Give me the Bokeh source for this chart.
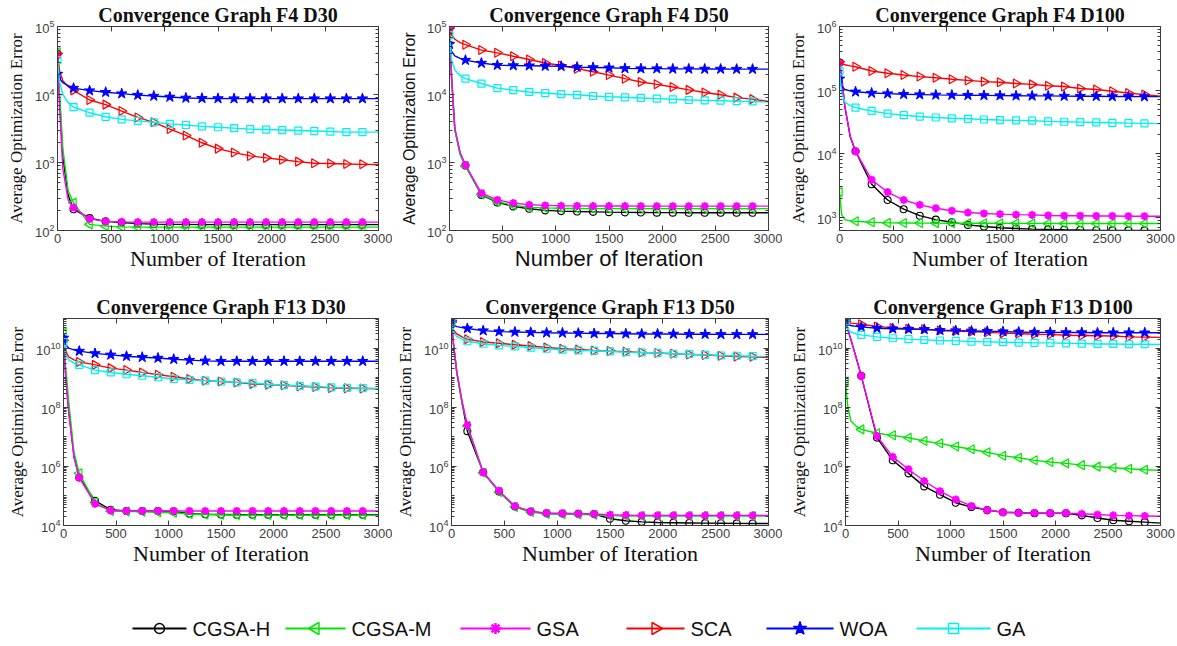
import math
from bokeh.plotting import figure
from bokeh.models import (Range1d, FixedTicker, LogAxis, LinearAxis, ColumnDataSource)
from bokeh.layouts import column, row
from bokeh.embed import file_html
from bokeh.resources import INLINE
from bokeh.core.properties import value

# ---------------- data ----------------
ITER = [0, 20, 50, 100, 150, 300, 450, 600, 750, 900, 1050, 1200, 1350, 1500,
        1650, 1800, 1950, 2100, 2250, 2400, 2550, 2700, 2850, 3000]
MARK_STEP = 150
X_TICKS = [0, 500, 1000, 1500, 2000, 2500, 3000]
ALGOS = ["CGSA-H", "CGSA-M", "GSA", "SCA", "WOA", "GA"]

# F4, D30
F4_D30_CGSA_H = [4.0e4, 8.0e3, 1.2e3, 330, 205, 152, 136, 131, 126, 124, 123, 123, 122, 122, 122, 122, 122, 122, 122, 122, 122, 122, 122, 122]
F4_D30_CGSA_M = [4.2e4, 1.0e4, 1.6e3, 380, 257, 123, 116, 113, 112, 112, 112, 112, 112, 112, 112, 112, 112, 112, 112, 112, 112, 112, 112, 112]
F4_D30_GSA = [3.8e4, 6.0e3, 800, 280, 217, 148, 136, 134, 133, 133, 133, 133, 133, 133, 133, 133, 133, 133, 133, 133, 133, 133, 133, 133]
F4_D30_SCA = [4.0e4, 2.2e4, 1.6e4, 1.3e4, 1.15e4, 8.3e3, 7.1e3, 5.7e3, 4.6e3, 3.9e3, 3.1e3, 2.5e3, 1.95e3, 1.6e3, 1.4e3, 1.25e3, 1.17e3, 1.1e3, 1.03e3, 975, 965, 950, 940, 935]
F4_D30_WOA = [2.0e4, 1.7e4, 1.5e4, 1.35e4, 1.24e4, 1.14e4, 1.08e4, 1.03e4, 9.8e3, 9.5e3, 9.2e3, 8.9e3, 8.8e3, 8.75e3, 8.7e3, 8.7e3, 8.7e3, 8.7e3, 8.7e3, 8.7e3, 8.7e3, 8.7e3, 8.7e3, 8.7e3]
F4_D30_GA = [3.2e4, 1.5e4, 1.0e4, 7.6e3, 6.5e3, 5.4e3, 4.7e3, 4.3e3, 4.1e3, 3.9e3, 3.7e3, 3.56e3, 3.4e3, 3.3e3, 3.2e3, 3.1e3, 3.05e3, 3.0e3, 2.95e3, 2.9e3, 2.85e3, 2.8e3, 2.8e3, 2.8e3]

# F4, D50
F4_D50_CGSA_H = [9.5e4, 1.7e4, 3.1e3, 1.35e3, 900, 334, 259, 226, 209, 198, 193, 190, 188, 186, 185, 184, 183, 183, 182, 182, 182, 182, 182, 182]
F4_D50_CGSA_M = [9.5e4, 1.7e4, 3.0e3, 1.3e3, 890, 340, 266, 236, 219, 215, 212, 211, 210, 210, 210, 210, 210, 210, 210, 210, 210, 210, 210, 210]
F4_D50_GSA = [9.5e4, 1.8e4, 3.2e3, 1.4e3, 920, 354, 282, 253, 239, 234, 231, 230, 229, 229, 229, 228, 228, 228, 228, 228, 228, 228, 228, 228]
F4_D50_SCA = [9.5e4, 7.5e4, 6.5e4, 5.8e4, 5.4e4, 4.5e4, 4.1e4, 3.65e4, 3.27e4, 2.9e4, 2.67e4, 2.4e4, 2.16e4, 1.93e4, 1.71e4, 1.53e4, 1.41e4, 1.29e4, 1.17e4, 1.07e4, 9.9e3, 9.0e3, 8.55e3, 7.9e3]
F4_D50_WOA = [5.5e4, 4.3e4, 3.7e4, 3.4e4, 3.2e4, 2.9e4, 2.7e4, 2.67e4, 2.65e4, 2.62e4, 2.6e4, 2.53e4, 2.5e4, 2.47e4, 2.42e4, 2.4e4, 2.4e4, 2.38e4, 2.38e4, 2.37e4, 2.37e4, 2.36e4, 2.36e4, 2.36e4]
F4_D50_GA = [7.5e4, 3.2e4, 2.3e4, 1.9e4, 1.71e4, 1.45e4, 1.24e4, 1.16e4, 1.09e4, 1.05e4, 1.01e4, 9.9e3, 9.5e3, 9.25e3, 9.1e3, 8.9e3, 8.7e3, 8.5e3, 8.3e3, 8.2e3, 8.1e3, 8.0e3, 7.9e3, 7.8e3]

# F4, D100
F4_D100_CGSA_H = [2.7e5, 1.6e5, 5.5e4, 1.85e4, 1.09e4, 3.3e3, 1.87e3, 1.34e3, 1.06e3, 918, 836, 760, 716, 684, 668, 652, 645, 637, 630, 625, 623, 622, 622, 622]
F4_D100_CGSA_M = [2.5e3, 1.1e3, 920, 880, 865, 836, 817, 815, 812, 810, 808, 806, 805, 804, 803, 802, 801, 800, 800, 800, 800, 800, 800, 800]
F4_D100_GSA = [2.7e5, 1.6e5, 5.6e4, 1.9e4, 1.09e4, 3.9e3, 2.49e3, 1.87e3, 1.57e3, 1.39e3, 1.27e3, 1.19e3, 1.15e3, 1.12e3, 1.1e3, 1.09e3, 1.07e3, 1.06e3, 1.06e3, 1.05e3, 1.05e3, 1.04e3, 1.04e3, 1.04e3]
F4_D100_SCA = [2.8e5, 2.6e5, 2.5e5, 2.4e5, 2.33e5, 2.0e5, 1.84e5, 1.73e5, 1.63e5, 1.56e5, 1.48e5, 1.42e5, 1.36e5, 1.33e5, 1.27e5, 1.23e5, 1.17e5, 1.14e5, 1.06e5, 1.02e5, 9.6e4, 9.0e4, 8.5e4, 8.0e4]
F4_D100_WOA = [1.5e5, 1.15e5, 1.02e5, 9.7e4, 9.4e4, 9.0e4, 8.8e4, 8.6e4, 8.5e4, 8.4e4, 8.35e4, 8.3e4, 8.25e4, 8.2e4, 8.15e4, 8.1e4, 8.1e4, 8.05e4, 8.0e4, 8.0e4, 7.95e4, 7.95e4, 7.9e4, 7.9e4]
F4_D100_GA = [2.0e5, 9.0e4, 6.5e4, 5.7e4, 5.3e4, 4.7e4, 4.27e4, 4.03e4, 3.84e4, 3.71e4, 3.6e4, 3.54e4, 3.45e4, 3.38e4, 3.34e4, 3.3e4, 3.22e4, 3.18e4, 3.14e4, 3.1e4, 3.06e4, 3.03e4, 3.0e4, 2.97e4]

# F13, D30
F13_D30_CGSA_H = [2.0e10, 1.3e9, 8.0e7, 2.2e6, 4.2e5, 6.9e4, 3.4e4, 3.1e4, 3.1e4, 3.1e4, 3.0e4, 2.5e4, 2.4e4, 2.35e4, 2.3e4, 2.3e4, 2.3e4, 2.3e4, 2.3e4, 2.3e4, 2.3e4, 2.3e4, 2.3e4, 2.3e4]
F13_D30_CGSA_M = [3.3e10, 2.5e9, 1.5e8, 3.0e6, 5.8e5, 6.1e4, 3.1e4, 3.0e4, 2.9e4, 2.8e4, 2.7e4, 2.45e4, 2.35e4, 2.3e4, 2.25e4, 2.25e4, 2.25e4, 2.25e4, 2.25e4, 2.25e4, 2.25e4, 2.25e4, 2.25e4, 2.25e4]
F13_D30_GSA = [2.0e10, 1.1e9, 6.0e7, 2.0e6, 4.2e5, 5.4e4, 3.2e4, 3.1e4, 3.1e4, 3.1e4, 3.1e4, 3.1e4, 3.1e4, 3.1e4, 3.1e4, 3.1e4, 3.1e4, 3.1e4, 3.1e4, 3.1e4, 3.1e4, 3.1e4, 3.1e4, 3.1e4]
F13_D30_SCA = [1.8e10, 8.0e9, 5.0e9, 4.0e9, 3.4e9, 2.7e9, 2.1e9, 1.8e9, 1.5e9, 1.26e9, 1.07e9, 9.0e8, 7.9e8, 7.4e8, 6.9e8, 6.1e8, 5.8e8, 5.5e8, 5.1e8, 4.8e8, 4.5e8, 4.4e8, 4.3e8, 4.2e8]
F13_D30_WOA = [2.2e10, 1.3e10, 1.0e10, 8.7e9, 7.9e9, 6.6e9, 5.9e9, 5.3e9, 4.9e9, 4.6e9, 4.2e9, 3.9e9, 3.7e9, 3.6e9, 3.6e9, 3.6e9, 3.6e9, 3.6e9, 3.6e9, 3.6e9, 3.6e9, 3.6e9, 3.6e9, 3.6e9]
F13_D30_GA = [1.6e10, 6.0e9, 4.0e9, 3.1e9, 2.7e9, 1.8e9, 1.5e9, 1.3e9, 1.16e9, 1.03e9, 9.0e8, 8.4e8, 7.9e8, 7.4e8, 6.9e8, 6.5e8, 6.0e8, 5.6e8, 5.3e8, 5.0e8, 4.7e8, 4.5e8, 4.4e8, 4.3e8]

# F13, D50
F13_D50_CGSA_H = [7.7e10, 1.25e10, 1.5e9, 1.4e8, 1.55e7, 6.3e5, 1.4e5, 4.4e4, 2.95e4, 2.6e4, 2.55e4, 2.5e4, 2.45e4, 1.7e4, 1.45e4, 1.33e4, 1.26e4, 1.24e4, 1.22e4, 1.2e4, 1.19e4, 1.18e4, 1.17e4, 1.17e4]
F13_D50_CGSA_M = [7.7e10, 1.2e10, 1.5e9, 1.5e8, 2.3e7, 6.1e5, 1.35e5, 4.2e4, 2.85e4, 2.45e4, 2.4e4, 2.35e4, 2.3e4, 2.15e4, 2.1e4, 2.1e4, 2.1e4, 2.1e4, 2.1e4, 2.1e4, 2.1e4, 2.1e4, 2.1e4, 2.1e4]
F13_D50_GSA = [7.7e10, 1.25e10, 1.6e9, 1.6e8, 2.5e7, 6.3e5, 1.5e5, 4.5e4, 3.0e4, 2.6e4, 2.55e4, 2.5e4, 2.45e4, 2.3e4, 2.25e4, 2.2e4, 2.2e4, 2.2e4, 2.2e4, 2.2e4, 2.2e4, 2.2e4, 2.2e4, 2.2e4]
F13_D50_SCA = [7.7e10, 4.0e10, 3.0e10, 2.4e10, 2.0e10, 1.6e10, 1.45e10, 1.3e10, 1.17e10, 1.05e10, 9.5e9, 9.0e9, 8.3e9, 7.9e9, 7.5e9, 7.1e9, 6.8e9, 6.4e9, 6.1e9, 5.8e9, 5.5e9, 5.2e9, 5.1e9, 4.8e9]
F13_D50_WOA = [7.7e10, 6.0e10, 5.3e10, 4.9e10, 4.6e10, 3.9e10, 3.6e10, 3.5e10, 3.4e10, 3.3e10, 3.25e10, 3.2e10, 3.1e10, 3.1e10, 3.05e10, 3.0e10, 3.0e10, 3.0e10, 2.95e10, 2.95e10, 2.9e10, 2.9e10, 2.9e10, 2.9e10]
F13_D50_GA = [7.7e10, 3.5e10, 2.5e10, 2.0e10, 1.7e10, 1.4e10, 1.23e10, 1.14e10, 1.03e10, 9.5e9, 8.8e9, 8.3e9, 8.1e9, 7.7e9, 7.3e9, 7.1e9, 6.8e9, 6.4e9, 6.2e9, 5.9e9, 5.6e9, 5.5e9, 5.3e9, 5.2e9]

# F13, D100
F13_D100_CGSA_H = [8.0e10, 4.5e10, 2.0e10, 5.0e9, 1.15e9, 9.4e6, 1.6e6, 5.8e5, 2.1e5, 1.1e5, 5.9e4, 4.2e4, 3.3e4, 2.8e4, 2.7e4, 2.6e4, 2.6e4, 2.6e4, 2.2e4, 1.8e4, 1.5e4, 1.4e4, 1.3e4, 1.2e4]
F13_D100_CGSA_M = [7.4e8, 1.2e8, 3.5e7, 2.3e7, 1.78e7, 1.32e7, 1.12e7, 9.3e6, 7.2e6, 6.0e6, 4.7e6, 3.8e6, 3.0e6, 2.3e6, 1.95e6, 1.6e6, 1.4e6, 1.26e6, 1.1e6, 9.8e5, 9.0e5, 8.3e5, 7.7e5, 7.3e5]
F13_D100_GSA = [8.0e10, 4.5e10, 2.0e10, 5.0e9, 1.15e9, 1.07e7, 2.1e6, 8.0e5, 3.2e5, 1.45e5, 7.6e4, 4.6e4, 3.3e4, 2.8e4, 2.7e4, 2.65e4, 2.6e4, 2.6e4, 2.5e4, 2.35e4, 2.2e4, 2.15e4, 2.1e4, 2.05e4]
F13_D100_SCA = [8.0e10, 7.5e10, 7.0e10, 6.7e10, 6.4e10, 5.4e10, 4.8e10, 4.5e10, 4.3e10, 3.9e10, 3.8e10, 3.6e10, 3.4e10, 3.2e10, 3.1e10, 2.95e10, 2.9e10, 2.7e10, 2.65e10, 2.6e10, 2.55e10, 2.4e10, 2.35e10, 2.3e10]
F13_D100_WOA = [8.0e10, 6.5e10, 5.8e10, 5.4e10, 5.2e10, 4.7e10, 4.5e10, 4.4e10, 4.3e10, 4.0e10, 3.9e10, 3.8e10, 3.7e10, 3.6e10, 3.5e10, 3.4e10, 3.4e10, 3.35e10, 3.35e10, 3.3e10, 3.3e10, 3.3e10, 3.3e10, 3.3e10]
F13_D100_GA = [8.0e10, 4.5e10, 3.5e10, 3.0e10, 2.8e10, 2.4e10, 2.15e10, 2.0e10, 1.9e10, 1.8e10, 1.75e10, 1.66e10, 1.62e10, 1.58e10, 1.54e10, 1.5e10, 1.5e10, 1.45e10, 1.42e10, 1.38e10, 1.38e10, 1.35e10, 1.35e10, 1.32e10]

# ---------------- styles ----------------
AX_COLOR = "#3a3a3a"
TICK_LABEL_COLOR = "#404040"
STYLE = {
    "CGSA-H": dict(color="#000000", marker="circle", size=7, fill=None, angle=0.0, lw=1.1),
    "CGSA-M": dict(color="#00e600", marker="triangle", size=9, fill=None, angle=math.pi / 2, lw=1.2),
    "GSA": dict(color="#ff00ff", marker="asterisk", size=8, fill=None, angle=0.0, lw=2.2),
    "SCA": dict(color="#ff0000", marker="triangle", size=9, fill=None, angle=-math.pi / 2, lw=1.2),
    "WOA": dict(color="#0000ff", marker="star", size=11, fill="#0000ff", angle=0.0, lw=1.0),
    "GA": dict(color="#00f0f0", marker="square", size=7, fill=None, angle=0.0, lw=1.2),
}
MARK_IDX = [i for i, t in enumerate(ITER) if t % MARK_STEP == 0 and t < ITER[-1]]


def decade_ticks(lo_exp, hi_exp, step):
    majors = [10.0 ** e for e in range(lo_exp, hi_exp + 1, step)]
    minors = [m * 10.0 ** e for e in range(lo_exp - 1, hi_exp + 1) for m in range(2, 10)]
    if step > 1:
        minors += [10.0 ** e for e in range(lo_exp, hi_exp + 1) if (e - lo_exp) % step]
    return majors, minors


def style_axis(ax, labels=True):
    ax.axis_line_color = AX_COLOR
    ax.major_tick_in = 5
    ax.major_tick_out = 0
    ax.minor_tick_in = 3
    ax.minor_tick_out = 0
    ax.major_tick_line_color = AX_COLOR
    ax.minor_tick_line_color = AX_COLOR
    ax.major_label_text_font = "Liberation Sans"
    ax.major_label_text_color = TICK_LABEL_COLOR
    if labels:
        ax.major_label_text_font_size = "13px"
        ax.major_label_standoff = 3
    else:
        ax.major_label_text_font_size = "1px"
        ax.major_label_text_alpha = 0.0
        ax.major_label_standoff = 0


def make_panel(title, series, y_lo, y_hi, lo_exp, hi_exp, step, geom, sans):
    w, h, l, r, t, b = geom
    p = figure(width=w, height=h, x_range=Range1d(0, 3000), y_range=Range1d(y_lo, y_hi),
               y_axis_type="log", output_backend="svg", toolbar_location=None,
               min_border_left=l, min_border_right=r, min_border_top=t, min_border_bottom=b)
    p.grid.visible = False
    p.outline_line_color = AX_COLOR
    majors, minors = decade_ticks(lo_exp, hi_exp, step)
    yt = FixedTicker(ticks=majors, minor_ticks=minors)
    xt = FixedTicker(ticks=X_TICKS)
    xa = p.below[0]
    ya = p.left[0]
    xa.ticker = xt
    ya.ticker = yt
    style_axis(xa)
    style_axis(ya)
    lab_font = "Liberation Sans" if sans else "Liberation Serif"
    xa.axis_label = "Number of Iteration"
    xa.axis_label_text_font = lab_font
    xa.axis_label_text_font_style = "normal"
    xa.axis_label_text_font_size = "22px"
    xa.axis_label_text_color = "#111111"
    xa.axis_label_standoff = 0
    ya.axis_label = "Average Optimization Error"
    ya.axis_label_text_font = lab_font
    ya.axis_label_text_font_style = "normal"
    ya.axis_label_text_font_size = "16px" if sans else "17px"
    ya.axis_label_text_color = "#111111"
    ya.axis_label_standoff = 6
    # mirrored ticks on top and right (MATLAB box)
    ra = LogAxis(ticker=yt)
    style_axis(ra, labels=False)
    p.add_layout(ra, "right")
    ta = LinearAxis(ticker=xt)
    style_axis(ta, labels=False)
    p.add_layout(ta, "above")

    for name in ALGOS:
        vals = series[name]
        st = STYLE[name]
        src = ColumnDataSource(dict(x=ITER, y=vals))
        msrc = ColumnDataSource(dict(x=[ITER[i] for i in MARK_IDX], y=[vals[i] for i in MARK_IDX]))
        p.line("x", "y", source=src, line_color=st["color"], line_width=1.4)
        p.scatter("x", "y", source=msrc, marker=st["marker"], size=st["size"],
                  line_color=st["color"], fill_color=st["fill"], angle=st["angle"],
                  line_width=st["lw"])

    p.title.text = title
    p.title.align = "center"
    p.title.text_font = "Liberation Serif"
    p.title.text_font_size = "20px"
    p.title.text_font_style = "bold"
    p.title.text_color = "#111111"
    p.title.standoff = 2
    p.title.offset = 0
    return p


COLW = [392, 390, 395]
ROW1 = (290, 22, 60)   # height, top border, bottom border
ROW2 = (285, 28, 50)
LR1 = [(57, 14), (57, 14), (57, 17)]
LR2 = [(63, 14), (59, 14), (63, 17)]

PANELS = [
    ("Convergence Graph F4 D30", dict(zip(ALGOS, [F4_D30_CGSA_H, F4_D30_CGSA_M, F4_D30_GSA, F4_D30_SCA, F4_D30_WOA, F4_D30_GA])), 1e2, 1e5, 2, 5, 1, False),
    ("Convergence Graph F4 D50", dict(zip(ALGOS, [F4_D50_CGSA_H, F4_D50_CGSA_M, F4_D50_GSA, F4_D50_SCA, F4_D50_WOA, F4_D50_GA])), 1e2, 1e5, 2, 5, 1, True),
    ("Convergence Graph F4 D100", dict(zip(ALGOS, [F4_D100_CGSA_H, F4_D100_CGSA_M, F4_D100_GSA, F4_D100_SCA, F4_D100_WOA, F4_D100_GA])), 620, 1e6, 3, 6, 1, False),
    ("Convergence Graph F13 D30", dict(zip(ALGOS, [F13_D30_CGSA_H, F13_D30_CGSA_M, F13_D30_GSA, F13_D30_SCA, F13_D30_WOA, F13_D30_GA])), 1e4, 1e11, 4, 10, 2, False),
    ("Convergence Graph F13 D50", dict(zip(ALGOS, [F13_D50_CGSA_H, F13_D50_CGSA_M, F13_D50_GSA, F13_D50_SCA, F13_D50_WOA, F13_D50_GA])), 1e4, 1e11, 4, 10, 2, False),
    ("Convergence Graph F13 D100", dict(zip(ALGOS, [F13_D100_CGSA_H, F13_D100_CGSA_M, F13_D100_GSA, F13_D100_SCA, F13_D100_WOA, F13_D100_GA])), 1e4, 1e11, 4, 10, 2, False),
]

figs = []
for k, (title, series, lo, hi, le, he, stp, sans) in enumerate(PANELS):
    c = k % 3
    rh, rt, rb = ROW1 if k < 3 else ROW2
    l, r = (LR1 if k < 3 else LR2)[c]
    figs.append(make_panel(title, series, lo, hi, le, he, stp, (COLW[c], rh, l, r, rt, rb), sans))

# ---------------- legend strip (drawn in pixel space) ----------------
LEG_W, LEG_H = sum(COLW), 70
lf = figure(width=LEG_W, height=LEG_H, x_range=Range1d(0, LEG_W), y_range=Range1d(0, LEG_H),
            output_backend="svg", toolbar_location=None, min_border=0,
            x_axis_location=None, y_axis_location=None)
lf.grid.visible = False
lf.outline_line_color = None
LEG_X = [132, 285, 460, 626, 766, 916]
LEG_GW = [54, 60, 70, 58, 67, 74]
LEG_Y = 17
for name, lx, gw in zip(ALGOS, LEG_X, LEG_GW):
    st = STYLE[name]
    lf.line([lx, lx + gw], [LEG_Y, LEG_Y], line_color=st["color"], line_width=2.2)
    lf.scatter([lx + gw / 2], [LEG_Y], marker=st["marker"], size=st["size"] + 3,
               line_color=st["color"], fill_color=st["fill"], angle=st["angle"],
               line_width=st["lw"] + 0.3)
    lf.text([lx + gw + 6], [LEG_Y], text=[name], text_baseline="middle", text_align="left",
            text_font=value("Liberation Sans"), text_font_size=value("20px"),
            text_color="#111111")

layout = column(row(*figs[:3]), row(*figs[3:]), lf)
open("out.html", "w").write(file_html(layout, INLINE))
